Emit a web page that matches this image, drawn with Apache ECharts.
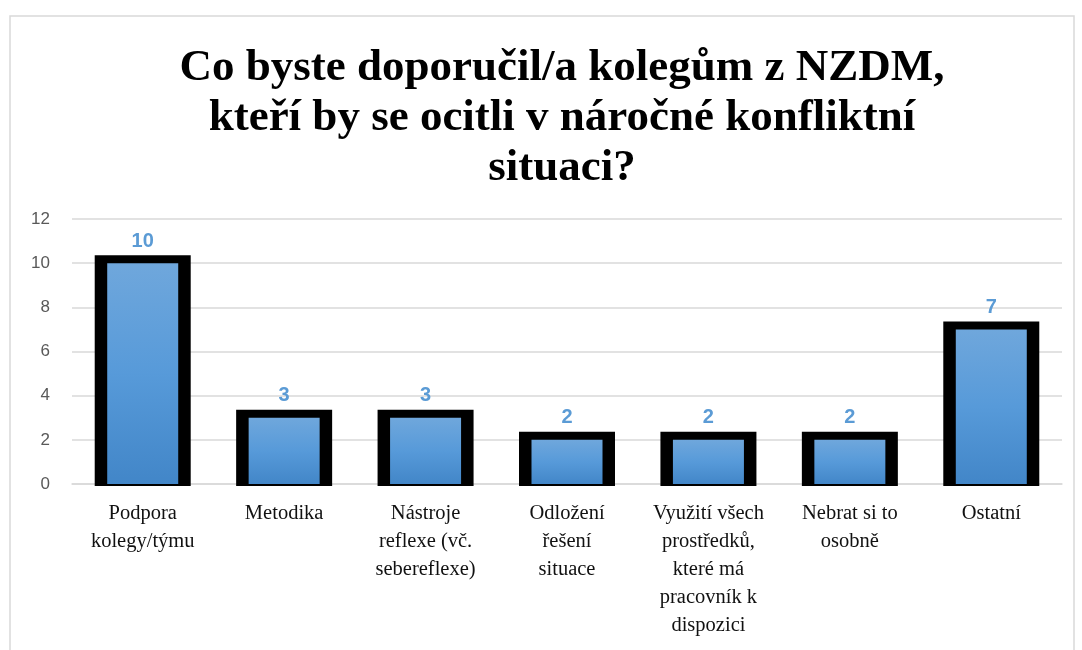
<!DOCTYPE html>
<html>
<head>
<meta charset="utf-8">
<script src="https://cdn.jsdelivr.net/npm/echarts@6/dist/echarts.min.js"></script>
<style>
  html, body { margin: 0; padding: 0; background: #fff; }
  #chart { width: 1082px; height: 650px; }
</style>
</head>
<body>
<div id="chart"></div>
<script>
// data
var titleText = 'Co byste doporučil/a kolegům z NZDM,\nkteří by se ocitli v náročné konfliktní\nsituaci?';
var categories = [
  'Podpora\nkolegy/týmu',
  'Metodika',
  'Nástroje\nreflexe (vč.\nsebereflexe)',
  'Odložení\nřešení\nsituace',
  'Využití všech\nprostředků,\nkteré má\npracovník k\ndispozici',
  'Nebrat si to\nosobně',
  'Ostatní'
];
var counts = [10, 3, 3, 2, 2, 2, 7];

var chart = echarts.init(document.getElementById('chart'));

var blueFill = new echarts.graphic.LinearGradient(0, 0, 0, 1, [
  { offset: 0, color: '#6fa7dc' },
  { offset: 0.5, color: '#579ad9' },
  { offset: 1, color: '#4286c8' }
]);

// thick black frame drawn behind every bar
function renderFrame(params, api) {
  var top = api.coord([api.value(0), api.value(1)]);
  var base = api.coord([api.value(0), 0]);
  var half = 48;
  return {
    type: 'rect',
    shape: { x: top[0] - half, y: top[1] - 8, width: half * 2, height: base[1] - top[1] + 10 },
    style: { fill: '#000' }
  };
}

var option = {
  animation: false,
  graphic: [{
    type: 'rect',
    shape: { x: 10, y: 16, width: 1064, height: 660 },
    style: { fill: 'none', stroke: '#d9d9d9', lineWidth: 1.5 },
    silent: true
  }],
  title: {
    text: titleText,
    left: 557,
    top: 38,
    textAlign: 'center',
    textStyle: {
      fontFamily: 'Liberation Serif',
      fontWeight: 'bold',
      fontSize: 45,
      lineHeight: 50,
      color: '#000'
    }
  },
  grid: { left: 72, right: 20, top: 219, bottom: 166 },
  xAxis: {
    type: 'category',
    data: categories,
    axisTick: { show: false },
    axisLine: { lineStyle: { color: '#d9d9d9', width: 1.5 } },
    axisLabel: {
      interval: 0,
      margin: 16,
      fontFamily: 'Liberation Serif',
      fontSize: 20.5,
      lineHeight: 28,
      color: '#111'
    }
  },
  yAxis: {
    type: 'value',
    min: 0,
    max: 12,
    interval: 2,
    axisLine: { show: false },
    axisTick: { show: false },
    splitLine: { lineStyle: { color: '#d9d9d9', width: 1.5 } },
    axisLabel: {
      margin: 22,
      fontFamily: 'Liberation Sans',
      fontSize: 17,
      color: '#595959'
    }
  },
  series: [{
    name: 'frame',
    type: 'custom',
    renderItem: renderFrame,
    data: counts.map(function (v, i) { return [i, v]; }),
    silent: true,
    z: 2
  }, {
    name: 'Počet',
    type: 'bar',
    data: counts,
    barWidth: 71,
    itemStyle: { color: blueFill },
    label: {
      show: true,
      position: 'top',
      distance: 12,
      fontFamily: 'Liberation Sans',
      fontWeight: 'bold',
      fontSize: 20,
      color: '#5b9bd5'
    },
    z: 3
  }]
};

chart.setOption(option);
</script>
</body>
</html>
